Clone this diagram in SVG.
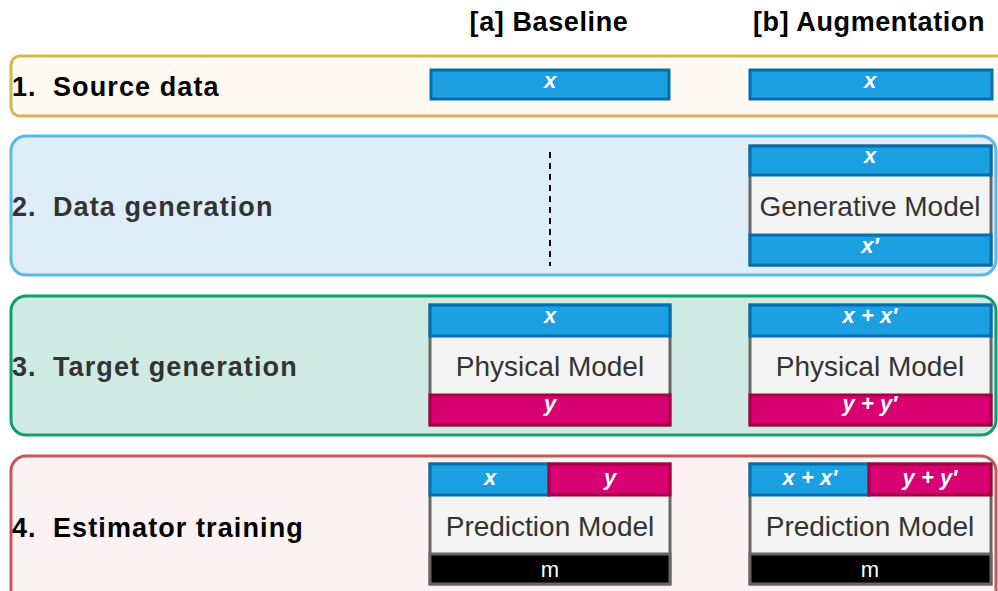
<svg xmlns="http://www.w3.org/2000/svg" width="998" height="591" viewBox="0 0 998 591">
<style>
.hdr{font-family:"Liberation Sans",Arial,sans-serif;font-weight:bold;font-size:27px;fill:#000;text-anchor:middle;letter-spacing:0.6px}
.lbl{font-family:"Liberation Sans",Arial,sans-serif;font-weight:bold;font-size:27px;letter-spacing:1.1px}
.blue{fill:#1ba1e2;stroke:#006eaf;stroke-width:3}
.mag{fill:#d80073;stroke:#a50040;stroke-width:3}
.gray{fill:#f4f4f4;stroke:#666;stroke-width:3}
.blk{fill:#000;stroke:#666;stroke-width:3}
.v{font-family:"Liberation Sans",Arial,sans-serif;font-weight:bold;font-style:italic;font-size:22px;fill:#fff;text-anchor:middle}
.m{font-family:"Liberation Sans",Arial,sans-serif;font-size:28px;fill:#333;text-anchor:middle}
.mw{font-family:"Liberation Sans",Arial,sans-serif;font-size:22px;fill:#fff;text-anchor:middle}
</style>
<rect width="998" height="591" fill="#fff"/>
<text class="hdr" x="549" y="31">[a] Baseline</text>
<text class="hdr" x="869" y="31">[b] Augmentation</text>

<g id="panel1">
<rect x="11" y="56" width="995" height="60" rx="9" fill="#fefaf2" stroke="#d6b656" stroke-width="3"/>
<text class="lbl" y="96" fill="#000"><tspan x="12">1.</tspan><tspan x="53">Source data</tspan></text>
</g>
<g id="panel2">
<rect x="11" y="136" width="985" height="139" rx="15" fill="#ddeef8" stroke="#5db7ea" stroke-width="3"/>
<text class="lbl" y="216" fill="#333"><tspan x="12">2.</tspan><tspan x="53">Data generation</tspan></text>
</g>
<g id="panel3">
<rect x="11" y="296" width="985" height="139" rx="15" fill="#cfeae2" stroke="#0f9d72" stroke-width="3"/>
<text class="lbl" y="376" fill="#333"><tspan x="12">3.</tspan><tspan x="53">Target generation</tspan></text>
</g>
<g id="panel4">
<rect x="11" y="456" width="985" height="160" rx="15" fill="#fcf2f3" stroke="#bf5b58" stroke-width="3"/>
<text class="lbl" y="537" fill="#000"><tspan x="12">4.</tspan><tspan x="53">Estimator training</tspan></text>
</g>

<g id="src-a">
<rect class="blue" x="431" y="70" width="238" height="29"/>
<text class="v" x="550" y="88">x</text>
</g>
<g id="src-b">
<rect class="blue" x="750" y="70" width="242" height="29"/>
<text class="v" x="870" y="88">x</text>
</g>

<g id="connectors">
<line x1="550" y1="152" x2="550" y2="266" stroke="#000" stroke-width="2" stroke-dasharray="6,5"/>
</g>

<g id="gen-b">
<rect class="gray" x="750" y="146" width="241" height="119"/>
<rect class="blue" x="750" y="146" width="241" height="29"/>
<rect class="blue" x="750" y="235" width="241" height="30"/>
<text class="v" x="870" y="163">x</text>
<text class="m" x="870" y="216">Generative Model</text>
<text class="v" x="870" y="253">x′</text>
</g>

<g id="tgt-a">
<rect class="gray" x="430" y="305" width="240" height="120"/>
<rect class="blue" x="430" y="305" width="240" height="31"/>
<rect class="mag" x="430" y="395" width="240" height="30"/>
<text class="v" x="550" y="323">x</text>
<text class="m" x="550" y="376">Physical Model</text>
<text class="v" x="550" y="411">y</text>
</g>
<g id="tgt-b">
<rect class="gray" x="750" y="305" width="241" height="120"/>
<rect class="blue" x="750" y="305" width="241" height="31"/>
<rect class="mag" x="750" y="395" width="241" height="30"/>
<text class="v" x="870" y="323">x + x′</text>
<text class="m" x="870" y="376">Physical Model</text>
<text class="v" x="870" y="411">y + y′</text>
</g>

<g id="est-a">
<rect class="gray" x="430" y="464" width="240" height="120"/>
<rect class="blue" x="430" y="464" width="119" height="31"/>
<rect class="mag" x="549" y="464" width="121" height="31"/>
<rect class="blk" x="430" y="554" width="240" height="30"/>
<text class="v" x="490" y="485">x</text>
<text class="v" x="610" y="485">y</text>
<text class="m" x="550" y="536">Prediction Model</text>
<text class="mw" x="550" y="577">m</text>
</g>
<g id="est-b">
<rect class="gray" x="750" y="464" width="241" height="120"/>
<rect class="blue" x="750" y="464" width="119" height="31"/>
<rect class="mag" x="869" y="464" width="122" height="31"/>
<rect class="blk" x="750" y="554" width="241" height="30"/>
<text class="v" x="810" y="485">x + x′</text>
<text class="v" x="930" y="485">y + y′</text>
<text class="m" x="870" y="536">Prediction Model</text>
<text class="mw" x="870" y="577">m</text>
</g>
</svg>
